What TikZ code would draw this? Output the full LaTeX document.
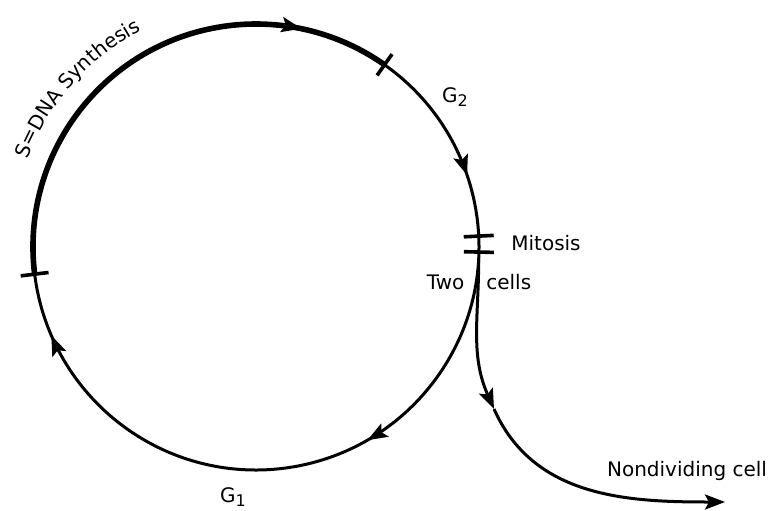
\documentclass[tikz,border=0pt]{standalone}
\usepackage{fontspec}
\setmainfont{DejaVu Sans}
\usepackage{tikz}
\usetikzlibrary{arrows.meta,calc,decorations.markings,decorations.text}

\newcommand{\phase}[1]{G\raisebox{-2pt}{\footnotesize #1}}

\begin{document}
\begin{tikzpicture}[
    x=0.5pt, y=0.5pt,
    font=\normalsize,
    cyc/.tip={Stealth[length=10pt, width=7.5pt, inset=2pt]},
    thinline/.style={line width=1.5pt},
    thickline/.style={line width=2.8pt},
    tickmark/.style={line width=1.8pt},
    lbl/.style={anchor=base, inner sep=0pt}
  ]
    \useasboundingbox (0,0) rectangle (775,510);
    \def\R{223}
    \coordinate (c) at (256,263);
    \coordinate (sstart) at ($(c)+(187:\R)$);
    \coordinate (send) at ($(c)+(54.8:\R)$);
    \coordinate (split) at ($(c)+(-3:\R)$);
    \coordinate (bend) at (494,101);
    \coordinate (out) at (725,8);

    % S phase, thick
    \draw[thickline, postaction={decorate},
      decoration={markings, mark=at position 0.823 with {\arrow{cyc}}}]
      (sstart) arc[start angle=187, end angle=54.8, radius=\R];
    % G2, mitosis, G1
    \draw[thinline, postaction={decorate},
      decoration={markings,
        mark=at position 0.158 with {\arrow{cyc}},
        mark=at position 0.504 with {\arrow{cyc}},
        mark=at position 0.928 with {\arrow{cyc}}}]
      (send) arc[start angle=54.8, end angle=-173, radius=\R];
    % leaving the cycle
    \draw[thinline, -{cyc}] (split) to[out=-90, in=114] (bend);
    \draw[thinline, -{cyc}] (bend) to[out=-66, in=180] (out);

    \foreach \a/\ri/\ro in {187/209/237, 54.8/210/236, 2.8/208/238, -1.3/208/238}
      \draw[tickmark] ($(c)+(\a:\ri)$) -- ($(c)+(\a:\ro)$);

    \path[decorate, decoration={text along path, text={S=DNA Synthesis}, text align=left}]
      ($(c)+(159:245)$) arc[start angle=159, end angle=100, radius=245];

    \node[lbl] (g2) at (455,408) {\phase{2}};
    \node[lbl] (g1) at (233,8) {\phase{1}};
    \node[lbl] (mitosis) at (546,260) {Mitosis};
    \node[lbl] (twocells) at (479,221) {Two\hspace{11pt}cells};
    \node[lbl] (nondiv) at (687,34) {Nondividing cell};
\end{tikzpicture}
\end{document}
